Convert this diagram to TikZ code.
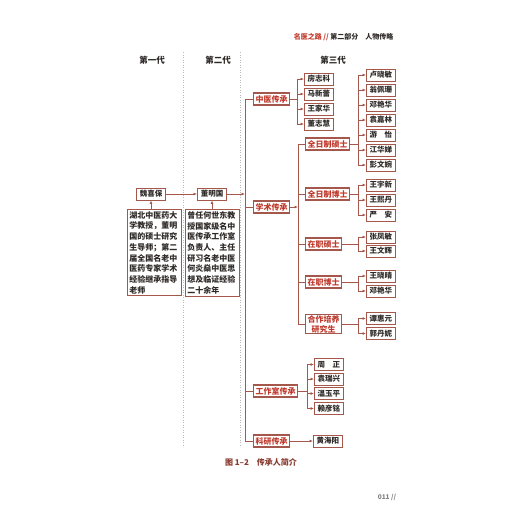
\documentclass[tikz,border=0pt]{standalone}
\usepackage{fontspec}
\setmainfont{Noto Sans CJK SC}
\usetikzlibrary{arrows.meta}
\definecolor{bord}{HTML}{A4574A}
\definecolor{catred}{HTML}{C0392B}
\definecolor{txt}{HTML}{2E2A28}
\definecolor{capred}{HTML}{8A3B30}
\begin{document}
\begin{tikzpicture}[x=1pt,y=-1pt,
  namebox/.style={draw=bord, line width=0.9pt, fill=white, text=txt,
    font=\fontsize{7.5}{8}\selectfont\bfseries, minimum width=29pt, minimum height=12pt,
    inner sep=1pt, anchor=west},
  catbox/.style={draw=bord, line width=1.2pt, fill=white, text=catred,
    font=\fontsize{8}{9}\selectfont\bfseries, minimum height=12pt,
    inner xsep=2pt, inner ysep=1pt, anchor=west, align=center},
  descbox/.style={draw=bord, line width=0.9pt, text=txt, text width=50pt,
    align=left, inner sep=2pt, anchor=north west,
    font=\fontsize{8}{10.7}\selectfont\bfseries},
  gen/.style={text=txt, font=\fontsize{8.5}{9}\selectfont\bfseries},
  conn/.style={draw=bord, line width=0.8pt},
  arr/.style={conn, -{Latex[length=3.4pt,width=2.8pt]}},
  sep/.style={draw=gray!55, line width=0.5pt, dotted}
]
\useasboundingbox[fill=white] (0,0) rectangle (520,520);

% header
\node[anchor=east, font=\fontsize{7}{8}\selectfont\bfseries] (hdr) at (397,37)
  {\textcolor{catred}{名医之路 //} \textcolor{txt}{第二部分　人物传略}};

% generation headings
\node[gen] (g1) at (152,60) {第一代};
\node[gen] (g2) at (218,60) {第二代};
\node[gen] (g3) at (333,60) {第三代};

% dotted separators
\coordinate (s1a) at (183,52); \coordinate (s1b) at (183,447);
\coordinate (s2a) at (240,52); \coordinate (s2b) at (240,447);
\draw[sep] (s1a) -- (s1b);
\draw[sep] (s2a) -- (s2b);

% first and second generation
\node[namebox, anchor=center] (wei) at (151,194) {魏喜保};
\node[namebox, anchor=center] (dong) at (212,194) {董明国};
\node[descbox] (d1) at (127,209) {湖北中医药大\\学教授，董明\\国的硕士研究\\生导师；第二\\届全国名老中\\医药专家学术\\经验继承指导\\老师};
\node[descbox] (d2) at (185,209) {曾任何世东教\\授国家级名中\\医传承工作室\\负责人、主任\\研习名老中医\\何炎燊中医思\\想及临证经验\\二十余年};
\draw[arr] (d1.north -| wei.south) -- (wei.south);
\draw[arr] (d2.north -| dong.south) -- (dong.south);
\draw[arr] (wei.east) -- (dong.west);
\coordinate (tr) at (245,194);
\draw[arr] (dong.east) -- (tr);

% categories
\node[catbox] (zy) at (253,99) {中医传承};
\node[catbox] (xs) at (253,207) {学术传承};
\node[catbox] (gzs) at (253,391) {工作室传承};
\node[catbox] (ky) at (253,441) {科研传承};
\coordinate (ttop) at (245,99);
\coordinate (tbot) at (245,441);
\draw[conn] (zy.west) -- (ttop) -- (tbot) -- (ky.west);
\draw[conn] (xs.west) -- (xs.west -| ttop);
\draw[conn] (gzs.west) -- (gzs.west -| ttop);

% sub categories of 学术传承
\node[catbox] (qs) at (305,144) {全日制硕士};
\node[catbox] (qb) at (305,194) {全日制博士};
\node[catbox] (zs) at (305,244) {在职硕士};
\node[catbox] (zb) at (305,282) {在职博士};
\node[catbox, font=\fontsize{8}{10}\selectfont\bfseries] (hz) at (305,324) {合作培养\\研究生};
\coordinate (xtop) at (298,144);
\coordinate (xbot) at (298,324);
\coordinate (xmid) at (298,207);
\draw[arr] (xs.east) -- (xmid);
\draw[conn] (qs.west) -- (xtop) -- (xbot) -- (hz.west);
\draw[conn] (qb.west) -- (qb.west -| xtop);
\draw[conn] (zs.west) -- (zs.west -| xtop);
\draw[conn] (zb.west) -- (zb.west -| xtop);

% helper: branch of names
\newcommand\namebranch[5]{% #1 parent, #2 vertical x, #3 name x, #4 prefix, #5 list y/name
  \foreach \yy/\nm [count=\i] in {#5} {
    \node[namebox] (#4\i) at (#3,\yy) {\nm};
    \coordinate (#4v\i) at (#2,\yy);
    \draw[arr] (#4v\i) -- (#4\i.west);
  }
}

% 中医传承
\namebranch{zy}{297}{304}{a}{79/房志科,94/马新蕾,109/王家华,124/董志慧}
\draw[conn] (av1) -- (av4);
\draw[conn] (zy.east) -- (zy.east -| av1);

% 全日制硕士
\namebranch{qs}{358}{366}{b}{75/卢晓敏,90/翁佩珊,105/邓艳华,120/袁嘉林,135/游　怡,150/江华娣,165/彭文婉}
\draw[conn] (bv1) -- (bv7);
\draw[conn] (qs.east) -- (qs.east -| bv1);

% 全日制博士
\namebranch{qb}{358}{366}{c}{185/王宇新,200/王熙丹,215/严　安}
\draw[conn] (cv1) -- (cv3);
\draw[conn] (qb.east) -- (qb.east -| cv1);

% 在职硕士
\namebranch{zs}{358}{366}{e}{237/张凤敏,251/王文辉}
\draw[conn] (ev1) -- (ev2);
\draw[conn] (zs.east) -- (zs.east -| ev1);

% 在职博士
\namebranch{zb}{358}{366}{f}{276/王晓晴,291/邓艳华}
\draw[conn] (fv1) -- (fv2);
\draw[conn] (zb.east) -- (zb.east -| fv1);

% 合作培养研究生
\namebranch{hz}{358}{366}{h}{318.5/谭惠元,333.5/郭丹妮}
\draw[conn] (hv1) -- (hv2);
\draw[conn] (hz.east) -- (hz.east -| hv1);

% 工作室传承
\namebranch{gzs}{307}{314}{k}{364.5/周　正,379/袁瑞兴,393.5/温玉平,408.5/赖彦铭}
\draw[conn] (kv1) -- (kv4);
\draw[conn] (gzs.east) -- (gzs.east -| kv1);

% 科研传承
\node[namebox] (huang) at (313,441) {黄海阳};
\draw[arr] (ky.east) -- (huang.west);

% caption and page number
\node[text=capred, font=\fontsize{8}{9}\selectfont\bfseries] (cap) at (261,462) {图 1–2　传承人简介};
\node[text=gray, font=\fontsize{6.5}{7}\selectfont\bfseries] (pg) at (387,497) {011 //};
\end{tikzpicture}
\end{document}
